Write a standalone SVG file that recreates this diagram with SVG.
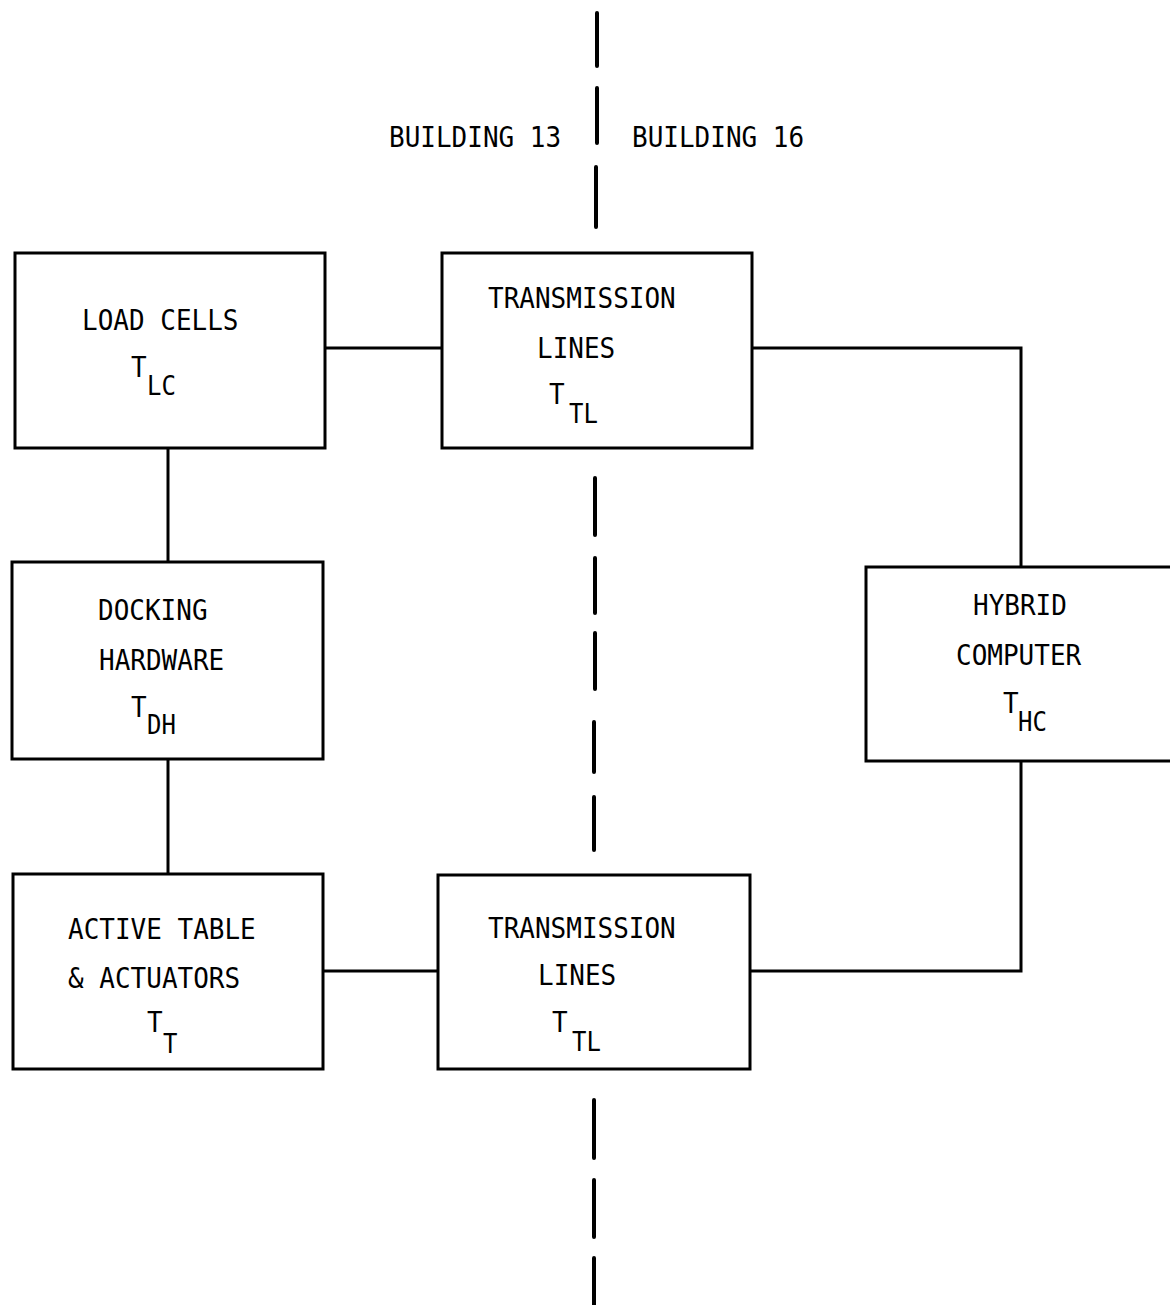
<svg xmlns="http://www.w3.org/2000/svg" width="1170" height="1305" viewBox="0 0 1170 1305">
<style>
.box{fill:none;stroke:#000;stroke-width:3}
.con{fill:none;stroke:#000;stroke-width:3}
.dash{fill:none;stroke:#000;stroke-width:4;stroke-linecap:round}
text{font-family:"DejaVu Sans Mono","Liberation Mono",monospace;font-size:26px;fill:#000}
.sub{font-size:24px}
</style>
<rect width="1170" height="1305" fill="#fff"/>
<g id="divider">
<path class="dash" d="M597,13V66M597,88V143M596,167V227M595,478V535M595,558V613M595,633V689M594,722V772M594,797V850M594,1100V1158M594,1180V1237M594,1258V1305"/>
<text transform="translate(389,147) scale(1,1.12)">BUILDING 13</text>
<text transform="translate(632,147) scale(1,1.12)">BUILDING 16</text>
</g>
<g id="connectors">
<path class="con" d="M325,348H442"/>
<path class="con" d="M752,348H1021V567"/>
<path class="con" d="M168,448V562"/>
<path class="con" d="M168,759V874"/>
<path class="con" d="M323,971H438"/>
<path class="con" d="M750,971H1021V761"/>
</g>
<g id="load-cells">
<rect class="box" x="15" y="253" width="310" height="195"/>
<text transform="translate(82,330) scale(1,1.12)">LOAD CELLS</text>
<text transform="translate(131,377) scale(1,1.12)">T</text><text class="sub" transform="translate(147,395) scale(1,1.12)">LC</text>
</g>
<g id="transmission-lines-top">
<rect class="box" x="442" y="253" width="310" height="195"/>
<text transform="translate(488,308) scale(1,1.12)">TRANSMISSION</text>
<text transform="translate(537,358) scale(1,1.12)">LINES</text>
<text transform="translate(549,404) scale(1,1.12)">T</text><text class="sub" transform="translate(569,423) scale(1,1.12)">TL</text>
</g>
<g id="docking-hardware">
<rect class="box" x="12" y="562" width="311" height="197"/>
<text transform="translate(98,620) scale(1,1.12)">DOCKING</text>
<text transform="translate(99,670) scale(1,1.12)">HARDWARE</text>
<text transform="translate(131,717) scale(1,1.12)">T</text><text class="sub" transform="translate(147,734) scale(1,1.12)">DH</text>
</g>
<g id="hybrid-computer">
<rect class="box" x="866" y="567" width="310" height="194"/>
<text transform="translate(973,615) scale(1,1.12)">HYBRID</text>
<text transform="translate(956,665) scale(1,1.12)">COMPUTER</text>
<text transform="translate(1003,713) scale(1,1.12)">T</text><text class="sub" transform="translate(1018,731) scale(1,1.12)">HC</text>
</g>
<g id="active-table">
<rect class="box" x="13" y="874" width="310" height="195"/>
<text transform="translate(68,939) scale(1,1.12)">ACTIVE TABLE</text>
<text transform="translate(68,988) scale(1,1.12)">&amp; ACTUATORS</text>
<text transform="translate(147,1032) scale(1,1.12)">T</text><text class="sub" transform="translate(163,1053) scale(1,1.12)">T</text>
</g>
<g id="transmission-lines-bottom">
<rect class="box" x="438" y="875" width="312" height="194"/>
<text transform="translate(488,938) scale(1,1.12)">TRANSMISSION</text>
<text transform="translate(538,985) scale(1,1.12)">LINES</text>
<text transform="translate(552,1032) scale(1,1.12)">T</text><text class="sub" transform="translate(572,1051) scale(1,1.12)">TL</text>
</g>
</svg>
